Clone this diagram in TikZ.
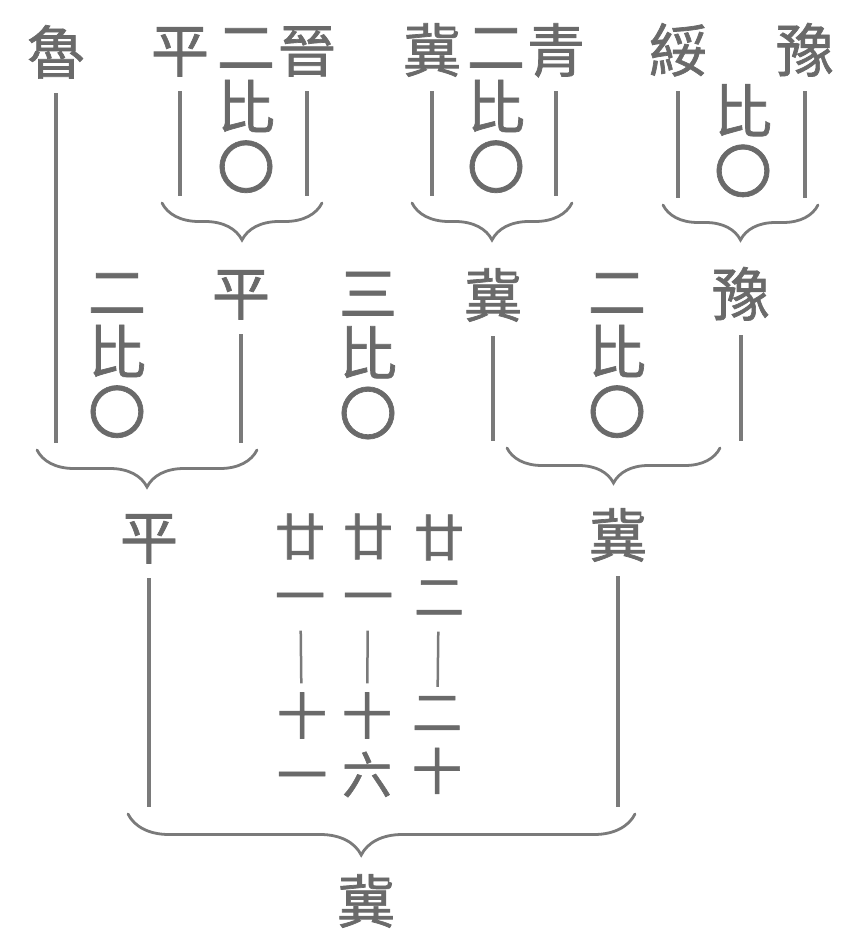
\documentclass[tikz,border=0pt]{standalone}
\usepackage{fontspec}
\newfontfamily\zh[FakeBold=1.2]{Noto Sans CJK TC}
\usetikzlibrary{decorations.pathreplacing,positioning}
\definecolor{moqian}{HTML}{6A6A6A}
\definecolor{xianhui}{HTML}{7A7A7A}

\begin{document}
\begin{tikzpicture}[
  x=1pt, y=-1pt,
  zi/.style={font=\zh\fontsize{58}{60}\selectfont, text=moqian, inner sep=0pt, align=center,
             execute at begin node={\rule{0pt}{51pt}},
             execute at end node={\rule[-7pt]{0pt}{7pt}}},
  fen/.style={font=\zh\fontsize{50}{59}\selectfont, text=moqian, inner sep=0pt, align=center,
              execute at begin node={\rule{0pt}{44pt}},
              execute at end node={\rule[-6pt]{0pt}{6pt}}},
  shu/.style={draw=xianhui, line width=3.5pt, shorten <=12pt, shorten >=7pt},
  fenxian/.style={draw=xianhui, line width=2.5pt, shorten <=10pt, shorten >=9pt},
  kuo/.style={draw=xianhui, line width=2.8pt, line cap=round, decorate,
              decoration={brace, mirror, amplitude=#1}},
]
  \useasboundingbox (0,0) rectangle (854,936);

  %% 第一輪：隊名與比分
  \node[zi] (lu)   at (56,52)  {魯};
  \node[zi] (ping) at (180,50) {平};
  \node[zi] (bi1)  at (246,112) {二\\比\\〇};
  \node[zi] (jin)  at (307,50) {晉};
  \node[zi] (ji)   at (432,50) {冀};
  \node[zi] (bi2)  at (496,112) {二\\比\\〇};
  \node[zi] (qing) at (556,50) {青};
  \node[zi] (sui)  at (678,50) {綏};
  \node[zi] (bi3)  at (743,142) {比\\〇};
  \node[zi] (yu)   at (805,50) {豫};

  %% 第一輪括號
  \coordinate (k1w) at (162,203); \coordinate (k1e) at (322,203);
  \coordinate (k2w) at (412,203); \coordinate (k2e) at (572,203);
  \coordinate (k3w) at (663,205); \coordinate (k3e) at (818,205);
  \draw[shu] (ping) -- (ping |- k1w);
  \draw[shu] (jin)  -- (jin |- k1w);
  \draw[shu] (ji)   -- (ji |- k2w);
  \draw[shu] (qing) -- (qing |- k2w);
  \draw[shu] (sui)  -- (sui |- k3w);
  \draw[shu] (yu)   -- (yu |- k3w);
  \draw[kuo=37] (k1w) -- (k1e);
  \draw[kuo=37] (k2w) -- (k2e);
  \draw[kuo=35] (k3w) -- (k3e);

  %% 第二輪
  \node[zi] (bi4)   at (117,357) {二\\比\\〇};
  \node[zi] (ping2) at (241,293) {平};
  \node[zi] (bi5)   at (368,357) {三\\比\\〇};
  \node[zi] (ji2)   at (493,295) {冀};
  \node[zi] (bi6)   at (617,357) {二\\比\\〇};
  \node[zi] (yu2)   at (741,294) {豫};

  \coordinate (k4w) at (37,450);  \coordinate (k4e) at (257,450);
  \coordinate (k5w) at (507,448); \coordinate (k5e) at (720,448);
  \draw[shu] (lu)    -- (lu |- k4w);
  \draw[shu] (ping2) -- (ping2 |- k4w);
  \draw[shu] (ji2)   -- (ji2 |- k5w);
  \draw[shu] (yu2)   -- (yu2 |- k5w);
  \draw[kuo=37] (k4w) -- (k4e);
  \draw[kuo=35] (k5w) -- (k5e);

  %% 決賽與各局比分
  \node[zi]  (ping3) at (149,537) {平};
  \node[zi]  (ji3)   at (618,535) {冀};
  \node[fen] (ju1a)  at (300,567) {廿\\一};
  \node[fen] (ju1b)  at (302,746) {十\\一};
  \node[fen] (ju2a)  at (368,567) {廿\\一};
  \node[fen] (ju2b)  at (367,746) {十\\六};
  \node[fen] (ju3a)  at (439,568) {廿\\二};
  \node[fen] (ju3b)  at (437,746) {二\\十};
  \draw[fenxian] (ju1a) -- (ju1b);
  \draw[fenxian] (ju2a) -- (ju2b);
  \draw[fenxian] (ju3a) -- (ju3b);

  \coordinate (k6w) at (128,814); \coordinate (k6e) at (635,814);
  \draw[shu] (ping3) -- (ping3 |- k6w);
  \draw[shu] (ji3)   -- (ji3 |- k6w);
  \draw[kuo=41, decoration={aspect=0.46}] (k6w) -- (k6e);

  \node[zi] (ji4) at (366,901) {冀};

\end{tikzpicture}
\end{document}
